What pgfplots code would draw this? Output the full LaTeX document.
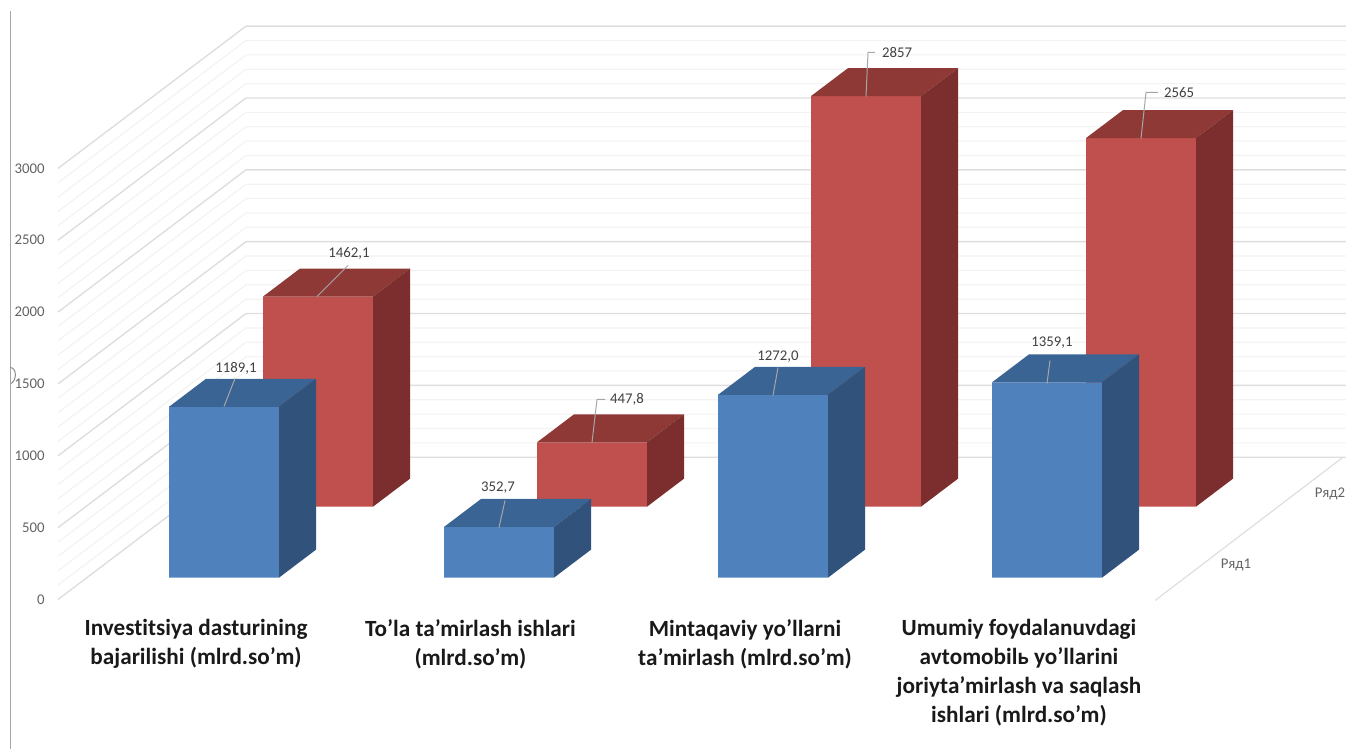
\documentclass[border=0pt]{standalone}
\usepackage{fontspec}
\setmainfont{Carlito}[Ligatures=NoCommon]
\usepackage{pgfplots}
\usepackage{pgfplotstable}
\pgfplotsset{compat=1.18}

\definecolor{bluefront}{HTML}{4F81BD}
\definecolor{bluetop}{HTML}{3A6494}
\definecolor{blueside}{HTML}{31527B}
\definecolor{redfront}{HTML}{C0504D}
\definecolor{redtop}{HTML}{8F3937}
\definecolor{redside}{HTML}{7B2E2D}
\definecolor{gridmajor}{HTML}{DEDEDE}
\definecolor{gridminor}{HTML}{F3F3F3}
\definecolor{labelgray}{HTML}{636363}

% faces of one bar: a = px to the right, b = share of the value, c = units up
\pgfplotstableread{
a b c
0 0 0
110 0 0
110 1 0
0 1 0
0 0 0
}\frontface
\pgfplotstableread{
a b c
0 1 0
110 1 0
147 1 194.8
37 1 194.8
0 1 0
}\topface
\pgfplotstableread{
a b c
110 0 0
147 0 194.8
147 1 194.8
110 1 0
110 0 0
}\sideface
\pgfplotstableread{
a b
58 0
246 990
1346 990
}\wallline

% #1 left edge, #2 base level, #3 value, #4 colour prefix
\newcommand{\cube}[4]{
  \addplot[draw=none,fill=#4front] table[x expr=#1+\thisrow{a},y expr=#2+\thisrow{b}*#3+\thisrow{c}] \frontface;
  \addplot[draw=none,fill=#4top] table[x expr=#1+\thisrow{a},y expr=#2+\thisrow{b}*#3+\thisrow{c}] \topface;
  \addplot[draw=none,fill=#4side] table[x expr=#1+\thisrow{a},y expr=#2+\thisrow{b}*#3+\thisrow{c}] \sideface;
}
% picture pixels to axis position
\newcommand{\px}[2]{(axis cs:#1,{(599-#2)/0.1437})}

\begin{document}
\begin{tikzpicture}
  \path[use as bounding box] (0,0) rectangle (673pt,374.5pt);
  \begin{axis}[
    at={(0,0)}, anchor=south west,
    scale only axis, width=673pt, height=374.5pt,
    xmin=0, xmax=1346, ymin=-1040.3, ymax=4171.9,
    axis line style={draw=none},
    tick style={draw=none},
    major tick length=0pt,
    ytick={0,500,1000,1500,2000,2500,3000},
    /pgf/number format/assume math mode=true,
    /pgf/number format/1000 sep={},
    yticklabel style={font=\fontsize{7.4}{9}\selectfont, text=labelgray, anchor=east, inner sep=0pt, xshift=22.5pt},
    xtick={196,470.5,745,1019},
    xticklabels={
      {Investitsiya dasturining\\bajarilishi (mlrd.so’m)},
      {To’la ta’mirlash ishlari\\(mlrd.so’m)},
      {Mintaqaviy yo’llarni\\ta’mirlash (mlrd.so’m)},
      {Umumiy foydalanuvdagi\\avtomobilь yo’llarini\\joriyta’mirlash va saqlash\\ishlari (mlrd.so’m)}},
    xticklabel style={font=\fontsize{11.6}{14.5}\selectfont\bfseries, text=black!90, align=center, anchor=north, inner sep=0pt, yshift=65pt},
  ]
    % walls
    \pgfplotsinvokeforeach{100,200,300,400,600,700,800,900,1100,1200,1300,1400,1600,1700,1800,1900,2100,2200,2300,2400,2600,2700,2800,2900}{
      \addplot[gridminor,line width=0.6pt] table[x=a,y expr=#1+\thisrow{b}] \wallline;
    }
    \pgfplotsinvokeforeach{0,500,1000,1500,2000,2500,3000}{
      \addplot[gridmajor,line width=0.7pt] table[x=a,y expr=#1+\thisrow{b}] \wallline;
    }
    % floor edge
    \addplot[gridmajor,line width=0.6pt] coordinates {(1155,-7) (1343,990)};

    % Ряд2, then Ряд1 in front of it
    \cube{263}{646}{1462.1}{red}
    \cube{537}{646}{447.8}{red}
    \cube{811}{646}{2857}{red}
    \cube{1086}{646}{2565}{red}
    \cube{169}{152}{1189.1}{blue}
    \cube{444}{152}{352.7}{blue}
    \cube{718}{152}{1272.0}{blue}
    \cube{992}{152}{1359.1}{blue}

    % leader lines
    \begin{scope}[draw=black!35,line width=0.5pt]
      \draw \px{317}{296} -- \px{348}{265};
      \draw \px{592}{442} -- \px{597}{399} -- \px{605}{399};
      \draw \px{866}{96} -- \px{868}{52} -- \px{875}{52};
      \draw \px{1141}{138} -- \px{1146}{92} -- \px{1158}{92};
      \draw \px{224}{406} -- \px{235}{378};
      \draw \px{499}{527} -- \px{505}{500};
      \draw \px{773}{395} -- \px{778}{367};
      \draw \px{1047}{383} -- \px{1050}{360};
    \end{scope}

    % value labels
    \begin{scope}[every node/.style={font=\fontsize{7.4}{9}\selectfont,text=black!75,inner sep=0pt}]
      \node at \px{349}{253} {1462,1};
      \node at \px{627}{399} {447,8};
      \node at \px{897}{52} {2857};
      \node at \px{1179}{92} {2565};
      \node at \px{236}{368} {1189,1};
      \node at \px{498}{487} {352,7};
      \node at \px{778}{356} {1272,0};
      \node at \px{1052}{342} {1359,1};
    \end{scope}

    % depth axis labels
    \node[font=\fontsize{7.4}{9}\selectfont,text=labelgray,inner sep=0pt] at \px{1236}{564} {Ряд1};
    \node[font=\fontsize{7.4}{9}\selectfont,text=labelgray,inner sep=0pt] at \px{1330}{493} {Ряд2};

    % stray edge of the slide
    \draw[black!35,line width=0.5pt] \px{10}{11} -- \px{10}{749};
    \draw[black!45,line width=0.5pt] \px{10}{367} .. controls \px{17}{367} and \px{17}{380} .. \px{11}{383};
  \end{axis}
\end{tikzpicture}
\end{document}
